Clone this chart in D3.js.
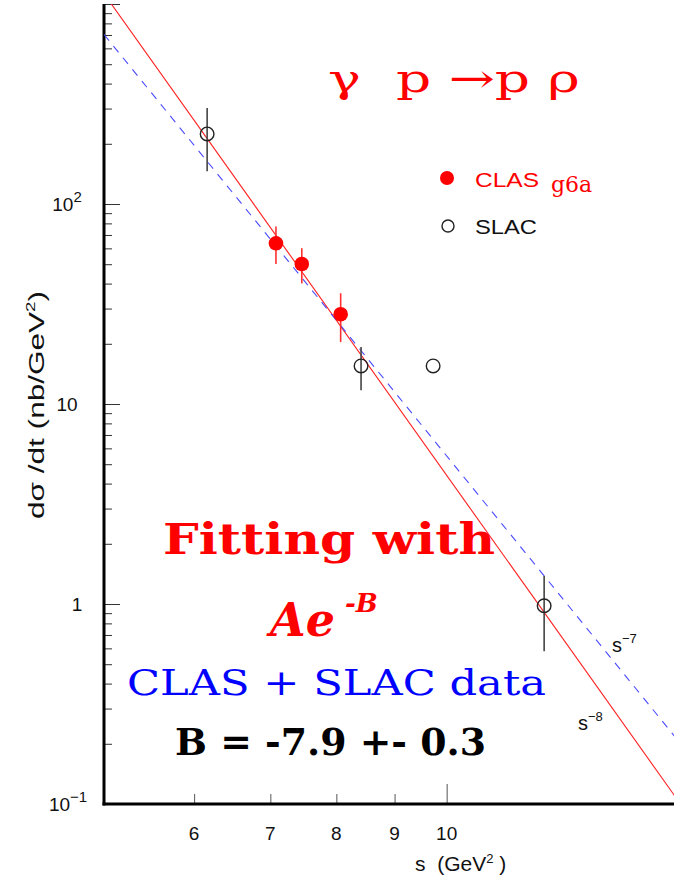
<!DOCTYPE html>
<html>
<head>
<meta charset="utf-8">
<script src="https://cdn.jsdelivr.net/npm/d3@7"></script>
<style>
  html, body { margin: 0; padding: 0; background: #fff; }
  svg { display: block; }
</style>
</head>
<body>
<script>
// ---- data ----
const clasS   = [7.08, 7.46, 8.07];
const clasY   = [63.6, 50.1, 28.1];
const clasErr = [13.5, 10.0, 7.7];

const slacS   = [6.16, 8.41, 9.73, 12.18];
const slacY   = [224, 15.5, 15.5, 0.98];
const slacErr = [78, 3.8, 0, 0.4];

const fitLabels  = ["−8", "−7"];
const fitExp     = [-8, -7];
const fitAt10    = [4.4, 5.5];   // fit value at s = 10 GeV^2

const xTicks      = [6, 7, 8, 9, 10];
const xTickLabels = ["6", "7", "8", "9", "10"];
const yMajor      = [0.1, 1, 10, 100];
const yMajorLabels= [["10","−1"], ["1",""], ["10",""], ["10","2"]];

// ---- layout ----
const W = 674, H = 887;
const svg = d3.select("body").append("svg").attr("width", W).attr("height", H);
const SANS = "Liberation Sans, Arial, sans-serif";
const SERIF = "DejaVu Serif, Liberation Serif, serif";

const x = d3.scaleLog().domain([5, 16]).range([104, 679]);
const y = d3.scaleLog().domain([0.1, 1000]).range([804, 4]);

svg.append("defs").append("clipPath").attr("id", "plotclip")
  .append("rect").attr("x", 104).attr("y", 4).attr("width", 580).attr("height", 800);

// y minor + major ticks (pointing inward)
const yMinor = [];
for (let e = -1; e < 3; e++) for (let k = 2; k <= 9; k++) yMinor.push(k * Math.pow(10, e));
const yAx = svg.append("g").attr("transform", "translate(104,0)")
  .call(d3.axisRight(y).tickValues(yMinor).tickSize(8).tickFormat(""));
yAx.select(".domain").remove();
yAx.selectAll("line").attr("stroke", "#333").attr("stroke-width", 1);
const yAx2 = svg.append("g").attr("transform", "translate(104,0)")
  .call(d3.axisRight(y).tickValues(yMajor.concat([1000])).tickSize(16).tickFormat(""));
yAx2.select(".domain").remove();
yAx2.selectAll("line").attr("stroke", "#333").attr("stroke-width", 1);

// y labels
const yl = svg.append("g").attr("font-family", SANS).attr("fill", "#111");
yMajor.forEach((v, i) => {
  const t = yl.append("text").attr("x", i === 1 ? 77 : (i === 0 ? 68 : 67)).attr("y", y(v) + 7)
    .attr("font-size", 19).attr("text-anchor", "middle");
  t.append("tspan").text(yMajorLabels[i][0]);
  if (yMajorLabels[i][1]) t.append("tspan").attr("dy", -9).attr("font-size", 15).text(yMajorLabels[i][1]);
});

// x ticks (pointing inward)
const xAx = svg.append("g").attr("transform", "translate(0,804)")
  .call(d3.axisTop(x).tickValues([6, 7, 8, 9]).tickSize(10).tickFormat(""));
xAx.select(".domain").remove();
xAx.selectAll("line").attr("stroke", "#555").attr("stroke-width", 1);
const xAx2 = svg.append("g").attr("transform", "translate(0,804)")
  .call(d3.axisTop(x).tickValues([10]).tickSize(20).tickFormat(""));
xAx2.select(".domain").remove();
xAx2.selectAll("line").attr("stroke", "#555").attr("stroke-width", 1);

svg.append("g").attr("font-family", SANS).attr("font-size", 19).attr("fill", "#111")
  .selectAll("text").data(xTicks).join("text")
  .attr("x", d => x(d)).attr("y", 840).attr("text-anchor", "middle")
  .text((d, i) => xTickLabels[i]);

// axis frame lines
svg.append("line").attr("x1", 104).attr("x2", 104).attr("y1", 4).attr("y2", 805.5)
  .attr("stroke", "#000").attr("stroke-width", 3);
svg.append("line").attr("x1", 102.5).attr("x2", 674).attr("y1", 804).attr("y2", 804)
  .attr("stroke", "#000").attr("stroke-width", 3);

// axis titles
const yt = svg.append("text").attr("transform", "translate(44,405) rotate(-90)")
  .attr("text-anchor", "middle").attr("font-family", SANS)
  .attr("font-size", 22).attr("fill", "#111")
  .attr("textLength", 228).attr("lengthAdjust", "spacingAndGlyphs");
yt.append("tspan").text("dσ /dt (nb/GeV");
yt.append("tspan").attr("dy", -9).attr("font-size", 13).text("2");
yt.append("tspan").attr("dy", 9).text(")");

const xt = svg.append("text").attr("x", 415).attr("y", 871)
  .attr("font-family", SANS).attr("font-size", 21).attr("fill", "#111")
  .attr("xml:space", "preserve");
xt.append("tspan").text("s  (GeV");
xt.append("tspan").attr("dy", -8).attr("font-size", 13).text("2");
xt.append("tspan").attr("dy", 8).text(" )");

// fit lines
const plot = svg.append("g").attr("clip-path", "url(#plotclip)");
const line = d3.line().x(d => x(d[0])).y(d => y(d[1]));
const fitColors = ["#ff2020", "#4a4aff"];
const fitDash = [null, "8,7"];
fitExp.forEach((b, i) => {
  const pts = [5, 16].map(s => [s, fitAt10[i] * Math.pow(s / 10, b)]);
  plot.append("path").datum(pts).attr("d", line)
    .attr("fill", "none").attr("stroke", fitColors[i]).attr("stroke-width", 1.1)
    .attr("stroke-dasharray", fitDash[i]);
});

// error bars
plot.selectAll(".eslac").data(slacS).join("line")
  .attr("x1", d => x(d)).attr("x2", d => x(d))
  .attr("y1", (d, i) => y(slacY[i] + slacErr[i]))
  .attr("y2", (d, i) => y(slacY[i] - slacErr[i]))
  .attr("stroke", "#444").attr("stroke-width", 1.6);
plot.selectAll(".eclas").data(clasS).join("line")
  .attr("x1", d => x(d)).attr("x2", d => x(d))
  .attr("y1", (d, i) => y(clasY[i] + clasErr[i]))
  .attr("y2", (d, i) => y(clasY[i] - clasErr[i]))
  .attr("stroke", "#ff3030").attr("stroke-width", 1.6);

// markers
plot.selectAll(".mslac").data(slacS).join("circle")
  .attr("cx", d => x(d)).attr("cy", (d, i) => y(slacY[i])).attr("r", 6.8)
  .attr("fill", "none").attr("stroke", "#222").attr("stroke-width", 1.4);
plot.selectAll(".mclas").data(clasS).join("circle")
  .attr("cx", d => x(d)).attr("cy", (d, i) => y(clasY[i])).attr("r", 7.3)
  .attr("fill", "#ff0000");

// fit labels
const fl = svg.append("g").attr("font-family", SANS).attr("fill", "#111");
[[612, 652, 1], [578, 730, 0]].forEach(p => {
  const t = fl.append("text").attr("x", p[0]).attr("y", p[1]).attr("font-size", 20);
  t.append("tspan").text("s");
  t.append("tspan").attr("dy", -9).attr("font-size", 13).text(fitLabels[p[2]]);
});

// title
svg.append("text").attr("x", 328).attr("y", 92)
  .attr("font-family", SERIF).attr("font-size", 40)
  .attr("fill", "#ff0000").attr("textLength", 252).attr("lengthAdjust", "spacingAndGlyphs")
  .attr("xml:space", "preserve").text("γ  p →p ρ");

// legend
svg.append("circle").attr("cx", 447).attr("cy", 178).attr("r", 7).attr("fill", "#ff0000");
svg.append("text").attr("x", 475).attr("y", 187).attr("font-family", SANS)
  .attr("font-size", 20).attr("fill", "#ff0000").attr("textLength", 64)
  .attr("lengthAdjust", "spacingAndGlyphs").text("CLAS");
svg.append("text").attr("x", 551).attr("y", 192).attr("font-family", SERIF)
  .attr("font-size", 22).attr("fill", "#ff0000").text("g6a");
svg.append("circle").attr("cx", 448).attr("cy", 226).attr("r", 6).attr("fill", "none")
  .attr("stroke", "#222").attr("stroke-width", 1.4);
svg.append("text").attr("x", 475).attr("y", 234).attr("font-family", SANS)
  .attr("font-size", 20).attr("fill", "#111").attr("textLength", 62)
  .attr("lengthAdjust", "spacingAndGlyphs").text("SLAC");

// annotations
svg.append("text").attr("x", 163).attr("y", 554)
  .attr("font-family", SERIF).attr("font-weight", "bold")
  .attr("font-size", 42).attr("fill", "#ff0000").attr("textLength", 332).attr("lengthAdjust", "spacingAndGlyphs")
  .text("Fitting with");
const ae = svg.append("text").attr("x", 270).attr("y", 636)
  .attr("font-family", SERIF).attr("font-weight", "bold")
  .attr("font-style", "italic").attr("font-size", 46).attr("fill", "#ff0000");
ae.append("tspan").text("Ae");
ae.append("tspan").attr("dx", 10).attr("dy", -24).attr("font-size", 26).text("-B");
svg.append("text").attr("x", 127).attr("y", 695)
  .attr("font-family", SERIF)
  .attr("font-size", 36).attr("fill", "#0000ff").attr("textLength", 419).attr("lengthAdjust", "spacingAndGlyphs")
  .text("CLAS + SLAC data");
svg.append("text").attr("x", 175).attr("y", 755)
  .attr("font-family", SERIF).attr("font-weight", "bold")
  .attr("font-size", 38).attr("fill", "#000").attr("textLength", 311).attr("lengthAdjust", "spacingAndGlyphs")
  .text("B = -7.9 +- 0.3");
</script>
</body>
</html>
